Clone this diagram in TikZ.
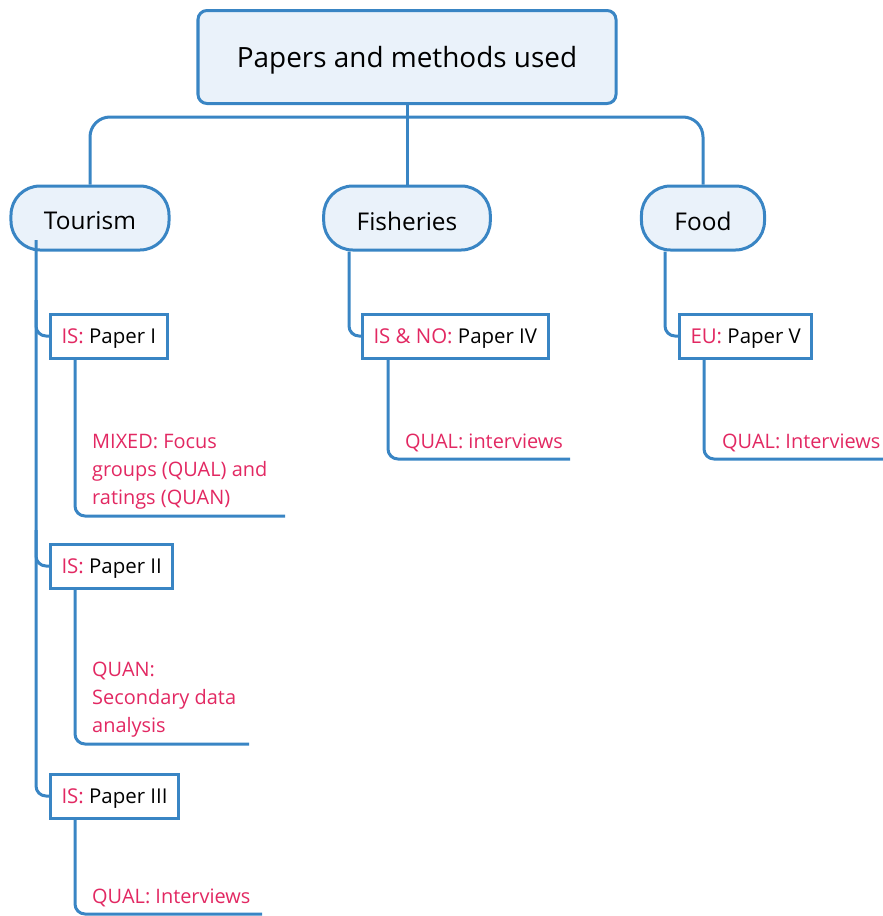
\documentclass[tikz,border=0pt]{standalone}
\usepackage{fontspec}
\setmainfont{Open Sans}
\definecolor{mapblue}{RGB}{57,133,196}
\definecolor{mapfill}{RGB}{234,242,250}
\definecolor{mappink}{RGB}{226,40,98}
\newcommand{\region}[1]{\textcolor{mappink}{#1}}
\newcommand{\low}[1]{\raisebox{-3bp}[\height][\depth]{#1}}
\tikzset{
  link/.style={mapblue, line width=3bp, rounded corners=10bp},
  rootbox/.style={draw=mapblue, line width=3bp, fill=mapfill, rounded corners=9bp,
    minimum width=418bp, minimum height=93bp, font=\fontsize{28}{32}\selectfont},
  topic/.style={draw=mapblue, line width=3bp, fill=mapfill, rounded corners=29bp,
    inner xsep=33bp, minimum height=64bp, font=\fontsize{24.5}{28}\selectfont},
  paper/.style={draw=mapblue, line width=3bp, fill=white, anchor=west,
    inner xsep=11bp, minimum height=44bp, font=\fontsize{20.5}{24}\selectfont},
  method/.style={mappink, anchor=north west, align=left, inner sep=0pt,
    font=\fontsize{20}{28}\selectfont}
}
\begin{document}
\begin{tikzpicture}[x=1bp, y=-1bp]
\useasboundingbox (0,0) rectangle (883,916);
% Root
\node[rootbox] (root) at (407,57) {\low{Papers and methods used}};
% Topics
\node[topic] (tourism) at (90,218) {\low{Tourism}};
\node[topic] (fisheries) at (407,218) {\low{Fisheries}};
\node[topic] (food) at (703,218) {\low{Food}};
% Papers
\node[paper] (p1) at (49,336) {\low{\region{IS:} Paper I}};
\node[paper] (p2) at (49,566) {\low{\region{IS:} Paper II}};
\node[paper] (p3) at (49,796) {\low{\region{IS:} Paper III}};
\node[paper] (p4) at (361,336) {\low{\region{IS \& NO:} Paper IV}};
\node[paper] (p5) at (678,336) {\low{\region{EU:} Paper V}};
% Methods
\node[method] (m1) at (92,434) {MIXED: Focus\\groups (QUAL) and\\ratings (QUAN)};
\node[method] (m2) at (92,662) {QUAN:\\Secondary data\\analysis};
\node[method] (m3) at (92,889) {QUAL: Interviews};
\node[method] (m4) at (405,434) {QUAL: interviews};
\node[method] (m5) at (722,434) {QUAL: Interviews};
% Ends of the underlines
\coordinate (e1) at (285,516);
\coordinate (e2) at (249,744);
\coordinate (e3) at (262,914);
\coordinate (e4) at (570,459);
\coordinate (e5) at (883,459);
\coordinate (bus) at (407,117);
% Root to topics
\draw[link] (root.south) -- (fisheries.north);
\draw[link, rounded corners=20bp] (tourism.north) |- (bus) -| (food.north);
% Topics to papers
\draw[link] (36,240) |- (p3.west);
\draw[link] (36,300) |- (p1.west);
\draw[link] (36,530) |- (p2.west);
\draw[link] (fisheries.south -| 349,0) |- (p4.west);
\draw[link] (food.south -| 665,0) |- (p5.west);
% Papers to methods
\draw[link] ([xshift=26bp]p1.south west) |- (e1);
\draw[link] ([xshift=26bp]p2.south west) |- (e2);
\draw[link] ([xshift=26bp]p3.south west) |- (e3);
\draw[link] ([xshift=27bp]p4.south west) |- (e4);
\draw[link] ([xshift=26bp]p5.south west) |- (e5);
\end{tikzpicture}
\end{document}
